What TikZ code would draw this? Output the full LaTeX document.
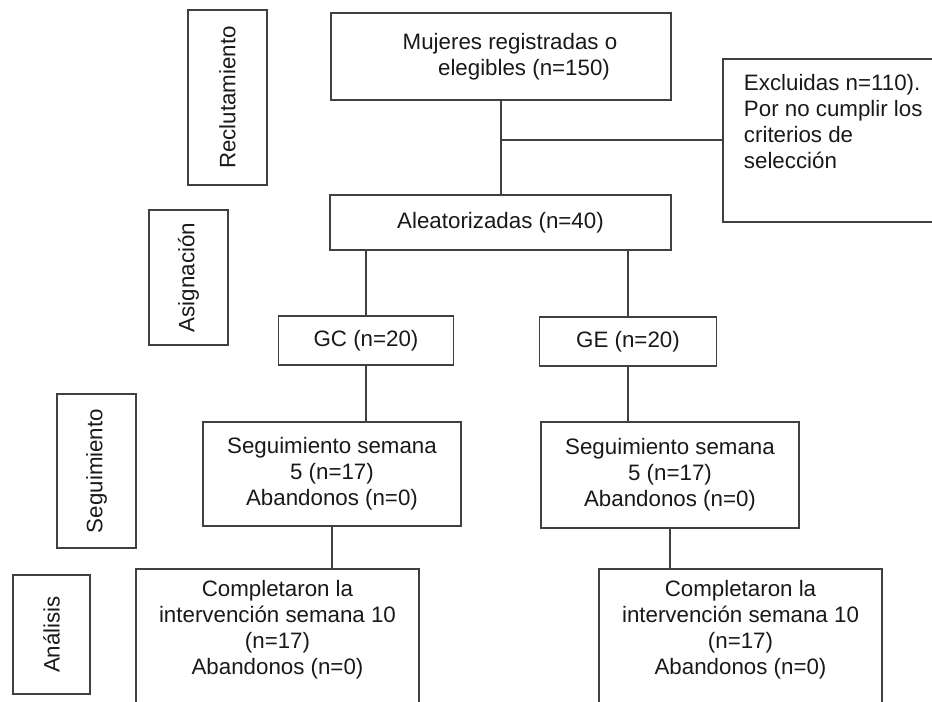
\documentclass[tikz,border=0pt]{standalone}
\usepackage{fontspec}
\setmainfont{Liberation Sans}

\tikzset{
  caja/.style={draw=black!75, line width=1.1pt, rectangle, align=center,
    font=\fontsize{12.7pt}{14.8pt}\selectfont, text=black!90},
  linea/.style={draw=black!75, line width=1.1pt},
}

\begin{document}
\begin{tikzpicture}[x=0.02cm, y=-0.02cm]
            % Marco
            \useasboundingbox (0,0) rectangle (932,701);
            \clip (0,0) rectangle (932,701);

            % Etapas
            \node[caja, minimum width=1.58cm, minimum height=3.5cm] (recl) at (227.5,97.5) {\rotatebox{90}{Reclutamiento}};
            \node[caja, minimum width=1.58cm, minimum height=2.7cm] (asig) at (188.5,277.5) {\rotatebox{90}{Asignación}};
            \node[caja, minimum width=1.58cm, minimum height=3.08cm] (segui) at (96.5,471) {\rotatebox{90}{Seguimiento}};
            \node[caja, minimum width=1.54cm, minimum height=2.38cm] (anal) at (51.5,634.5) {\rotatebox{90}{Análisis}};

            % Cajas
            \node[caja, minimum width=6.8cm, minimum height=1.74cm] (mujeres) at (501,56.5) {\hspace*{0.36cm}Mujeres registradas o\\\hspace*{0.92cm}elegibles (n=150)};
            \node[caja, anchor=north west, inner xsep=0.42cm, inner ysep=0.3cm] (excluidas) at (722,58)
              {\parbox[c][2.66cm][t]{3.96cm}{Excluidas n=110).\\Por no cumplir los\\criterios de\\selección}};
            \node[caja, minimum width=6.82cm, minimum height=1.1cm] (alea) at (500.5,222.5) {Aleatorizadas (n=40)};
            \node[caja, minimum width=3.5cm, minimum height=0.98cm] (gc) at (366,340.5) {GC (n=20)};
            \node[caja, minimum width=3.54cm, minimum height=0.98cm] (ge) at (628,341.5) {GE (n=20)};
            \node[caja, minimum width=5.16cm, minimum height=2.08cm] (segc) at (332,474) {Seguimiento semana\\5 (n=17)\\Abandonos (n=0)};
            \node[caja, minimum width=5.16cm, minimum height=2.12cm] (sege) at (670,475) {Seguimiento semana\\5 (n=17)\\Abandonos (n=0)};
            \node[caja, minimum width=5.66cm, minimum height=3.02cm] (compc) at (277.5,644.5) {Completaron la\\intervención semana 10\\(n=17)\\Abandonos (n=0)\\\strut};
            \node[caja, minimum width=5.66cm, minimum height=3.02cm] (compe) at (740.5,644.5) {Completaron la\\intervención semana 10\\(n=17)\\Abandonos (n=0)\\\strut};

            % Conectores
            \draw[linea] (mujeres.south) -- (mujeres.south |- alea.north);
            \draw[linea] (mujeres.south |- excluidas.west) -- (excluidas.west);
            \draw[linea] (gc.north |- alea.south) -- (gc.north);
            \draw[linea] (ge.north |- alea.south) -- (ge.north);
            \draw[linea] (gc.south) -- (gc.south |- segc.north);
            \draw[linea] (ge.south) -- (ge.south |- sege.north);
            \draw[linea] (segc.south) -- (segc.south |- compc.north);
            \draw[linea] (sege.south) -- (sege.south |- compe.north);
\end{tikzpicture}
\end{document}
